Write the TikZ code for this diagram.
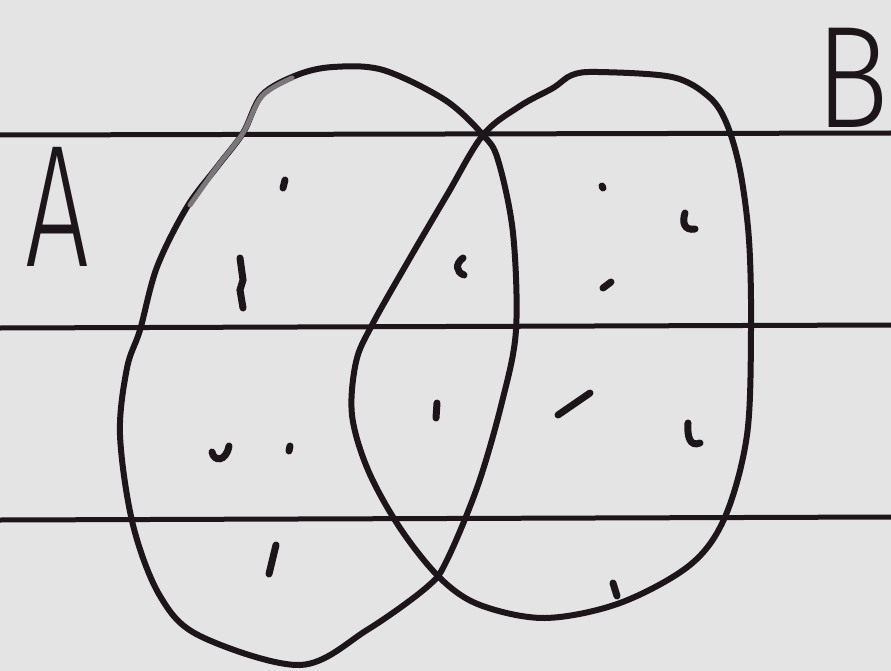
\documentclass[tikz,border=0pt]{standalone}
\usepackage{fontspec}
\setmainfont{Liberation Sans}
\newfontfamily\handfont{Fira Sans Light}
\begin{document}
\begin{tikzpicture}[x=1pt,y=-1pt,
  ruled/.style={line width=5pt, draw=ink},
  setcurve/.style={line width=6pt, draw=ink, line join=round},
  tally/.style={line width=7pt, draw=ink, line cap=round},
  letter/.style={text=ink, inner sep=0pt}]
\definecolor{paper}{HTML}{E4E4E4}
\definecolor{ink}{HTML}{1C161A}
\definecolor{pencil}{HTML}{7A767A}
\useasboundingbox (0,0) rectangle (891,671);
\fill[paper] (0,0) rectangle (891,671);
% ruled lines
\draw[ruled] (0,135) -- (891,133);
\draw[ruled] (0,328) -- (891,325);
\draw[ruled] (0,520) -- (891,517);
% set A
\draw[setcurve] plot[smooth cycle, tension=0.55] coordinates {
 (297,75) (333,67) (383,70) (445,100) (483,135) (498,160) (513,233) (516,330)
 (502,402) (478,485) (447,560) (427,587) (367,630) (300,665) (200,636)
 (160,596) (133,525) (120,435) (127,368) (140,330) (157,267) (187,207)
 (217,167) (243,133) (262,95)};
\draw[line width=5pt, draw=pencil, line cap=round] plot[smooth, tension=0.55] coordinates {
 (292,78) (262,96) (243,133) (217,167) (190,205)};
% set B
\draw[setcurve] plot[smooth cycle, tension=0.55] coordinates {
 (483,135) (520,106) (553,88) (572,75) (598,72) (672,77) (708,96) (726,122)
 (740,170) (749,240) (751,330) (747,435) (725,517) (690,565) (620,603)
 (545,618) (480,605) (440,578) (400,528) (368,470) (352,415) (356,362)
 (372,325) (410,258) (447,195)};
% labels
\node[letter] (labA) at (57,207) {\scalebox{0.65}[1]{\handfont\fontsize{174}{174}\selectfont A}};
\node[letter] (labB) at (852,78) {\scalebox{0.85}[1]{\handfont\fontsize{145}{145}\selectfont B}};
% tally marks
\draw[tally] (285,180) -- (283,188);
\draw[tally] (240,258) -- (243,280) -- (240,290) -- (243,308);
\draw[tally] (463,258) .. controls (455,264) and (456,272) .. (464,275);
\draw[tally] (602,186) -- (603,188);
\draw[tally] (685,213) .. controls (682,222) and (684,231) .. (695,229);
\draw[tally] (603,288) -- (611,282);
\draw[tally] (437,403) -- (436,418);
\draw[tally] (558,415) -- (590,393);
\draw[tally] (688,423) .. controls (687,437) and (690,447) .. (700,443);
\draw[tally] (212,452) .. controls (214,462) and (226,462) .. (229,446);
\draw[tally] (290,446) -- (289,451);
\draw[tally] (276,545) -- (269,574);
\draw[tally] (613,583) -- (617,596);
\end{tikzpicture}
\end{document}
